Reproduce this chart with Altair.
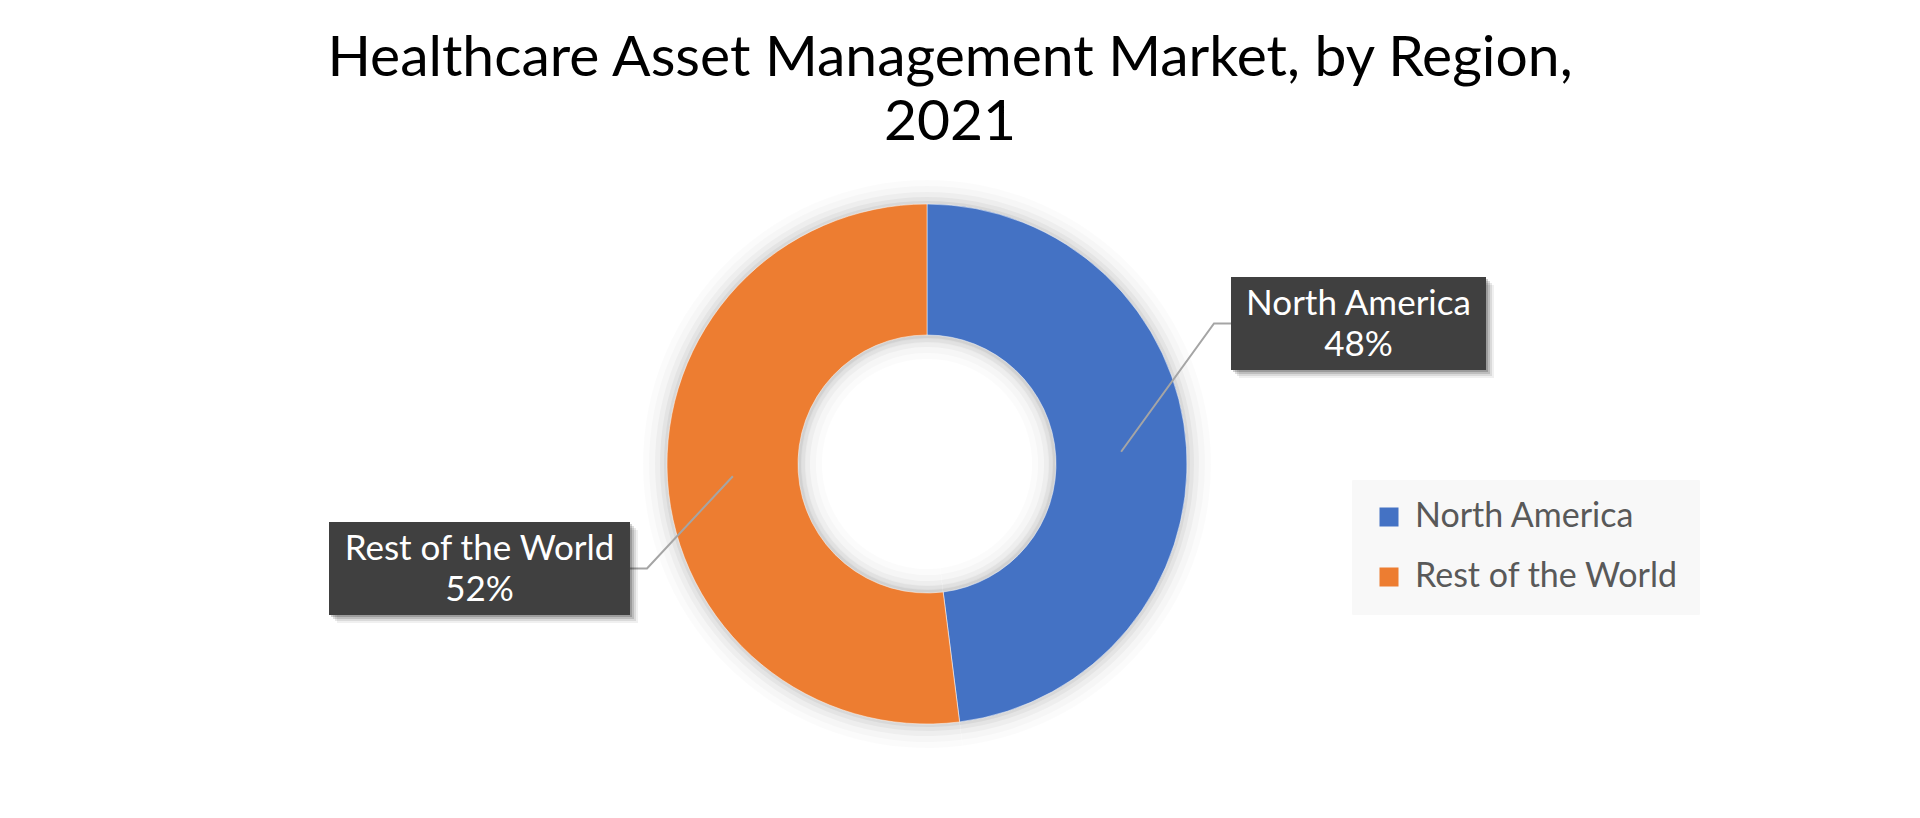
import math
import altair as alt
import pandas as pd

# ---------------- data ----------------
regions = ["North America", "Rest of the World"]
shares = [48, 52]
colors = ["#4472C4", "#ED7D31"]
title_lines = ["Healthcare Asset Management Market, by Region,", "2021"]

# ---------------- layout (pixels, plot-area coordinates) ----------------
W, H = 1904, 652
PAD_TOP = 150
CX, CY = 919, 306
R_OUT, R_IN = 260, 129
FONT = "Lato"
LABEL_FS = 35
LINE_H = 41
# label boxes: [x0, x1, y0, y1]
boxes = {
    "North America": [1223, 1478, 119, 212],
    "Rest of the World": [321, 622, 364, 457],
}
BEND = 17

# ---------------- derived tables ----------------
df = pd.DataFrame({"region": regions, "share": shares, "idx": list(range(len(regions)))})

total = sum(shares)
cum = 0
line_rows, box_rows = [], []
r_mid = (R_OUT + R_IN) / 2
for reg, s in zip(regions, shares):
    mid = (cum + s / 2) / total * 2 * math.pi
    cum += s
    sx = CX + r_mid * math.sin(mid)
    sy = CY - r_mid * math.cos(mid)
    x0, x1, y0, y1 = boxes[reg]
    yc = (y0 + y1) / 2
    if sx > CX:
        ex, bx = x0, x0 - BEND
    else:
        ex, bx = x1, x1 + BEND
    for k, (px, py) in enumerate([(sx, sy), (bx, yc), (ex, yc)]):
        line_rows.append({"region": reg, "k": k, "x": px, "y": py})
    box_rows.append({"region": reg, "x0": x0, "x1": x1, "y0": y0, "y1": y1,
                     "xc": (x0 + x1) / 2, "yc": yc,
                     "label": f"{reg}\n{s}%"})
lines_df = pd.DataFrame(line_rows)
boxes_df = pd.DataFrame(box_rows)

xs = alt.Scale(domain=[0, W], range=[0, W], nice=False, zero=False)
ys = alt.Scale(domain=[0, H], range=[0, H], nice=False, zero=False)

base = alt.Chart(df)

shadows = []
for dr, op in [(24, 0.015), (18, 0.02), (12, 0.03), (7, 0.04), (3, 0.05)]:
    shadows.append(
        base.mark_arc(outerRadius=R_OUT + dr, innerRadius=max(R_IN - dr, 0), color="#000000",
                      opacity=op, strokeWidth=0)
        .encode(theta=alt.Theta("share:Q", stack=True), order=alt.Order("idx:Q"),
                x=alt.value(CX), y=alt.value(CY))
    )

donut = base.mark_arc(outerRadius=R_OUT, innerRadius=R_IN, stroke="#ffffff", strokeWidth=0.5).encode(
    theta=alt.Theta("share:Q", stack=True),
    order=alt.Order("idx:Q"),
    color=alt.Color(
        "region:N",
        scale=alt.Scale(domain=regions, range=colors),
        legend=alt.Legend(
            title=None, orient="none", legendX=1344, legendY=322,
            symbolType="square", symbolSize=361, symbolStrokeWidth=0,
            labelFont=FONT, labelFontSize=34, labelColor="#595959", labelLimit=0,
            labelOffset=9, rowPadding=26, padding=20,
            fillColor="#F8F8F8", strokeColor="#F8F8F8",
        ),
    ),
    x=alt.value(CX), y=alt.value(CY),
)

# faint inner hole shadow
hole = []
for dr, op in [(8, 0.012), (4, 0.016)]:
    hole.append(
        base.mark_arc(outerRadius=R_IN, innerRadius=R_IN - dr, color="#000000", opacity=op, strokeWidth=0)
        .encode(theta=alt.Theta("share:Q", stack=True), order=alt.Order("idx:Q"),
                x=alt.value(CX), y=alt.value(CY))
    )

leaders = alt.Chart(lines_df).mark_line(color="#A5A5A5", strokeWidth=2).encode(
    x=alt.X("x:Q", scale=xs, axis=None),
    y=alt.Y("y:Q", scale=ys, axis=None),
    detail="region:N",
    order="k:Q",
)

bshadow = []
for d, op in [(8, 0.06), (6, 0.09), (4, 0.13), (2, 0.18)]:
    bshadow.append(
        alt.Chart(boxes_df).transform_calculate(
            sx0=f"datum.x0 + {d}", sx1=f"datum.x1 + {d}", sy0=f"datum.y0 + {d}", sy1=f"datum.y1 + {d}"
        ).mark_rect(color="#000000", opacity=op).encode(
            x=alt.X("sx0:Q", scale=xs, axis=None), x2="sx1:Q",
            y=alt.Y("sy0:Q", scale=ys, axis=None), y2="sy1:Q",
        )
    )

rects = alt.Chart(boxes_df).mark_rect(color="#404040").encode(
    x=alt.X("x0:Q", scale=xs, axis=None), x2="x1:Q",
    y=alt.Y("y0:Q", scale=ys, axis=None), y2="y1:Q",
)

texts = alt.Chart(boxes_df).mark_text(
    font=FONT, fontSize=LABEL_FS, color="#FFFFFF", lineBreak="\n", lineHeight=LINE_H,
    align="center", baseline="middle", dy=-LINE_H / 2 + 1,
).encode(
    x=alt.X("xc:Q", scale=xs, axis=None),
    y=alt.Y("yc:Q", scale=ys, axis=None),
    text="label:N",
)

chart = alt.layer(*shadows, donut, *hole, leaders, *bshadow, rects, texts).properties(
    width=W, height=H,
    autosize=alt.AutoSizeParams(type="none"),
    padding={"left": 0, "right": 0, "top": PAD_TOP, "bottom": 0},
    title=alt.TitleParams(
        text=title_lines, font=FONT, fontSize=57, fontWeight="normal", color="#000000",
        anchor="middle", frame="group", lineHeight=64, dx=-10, offset=6,
    ),
).configure(background="#FFFFFF").configure_view(strokeWidth=0, stroke="transparent")

chart.save("out.html", embed_options={"renderer": "svg", "actions": False})
